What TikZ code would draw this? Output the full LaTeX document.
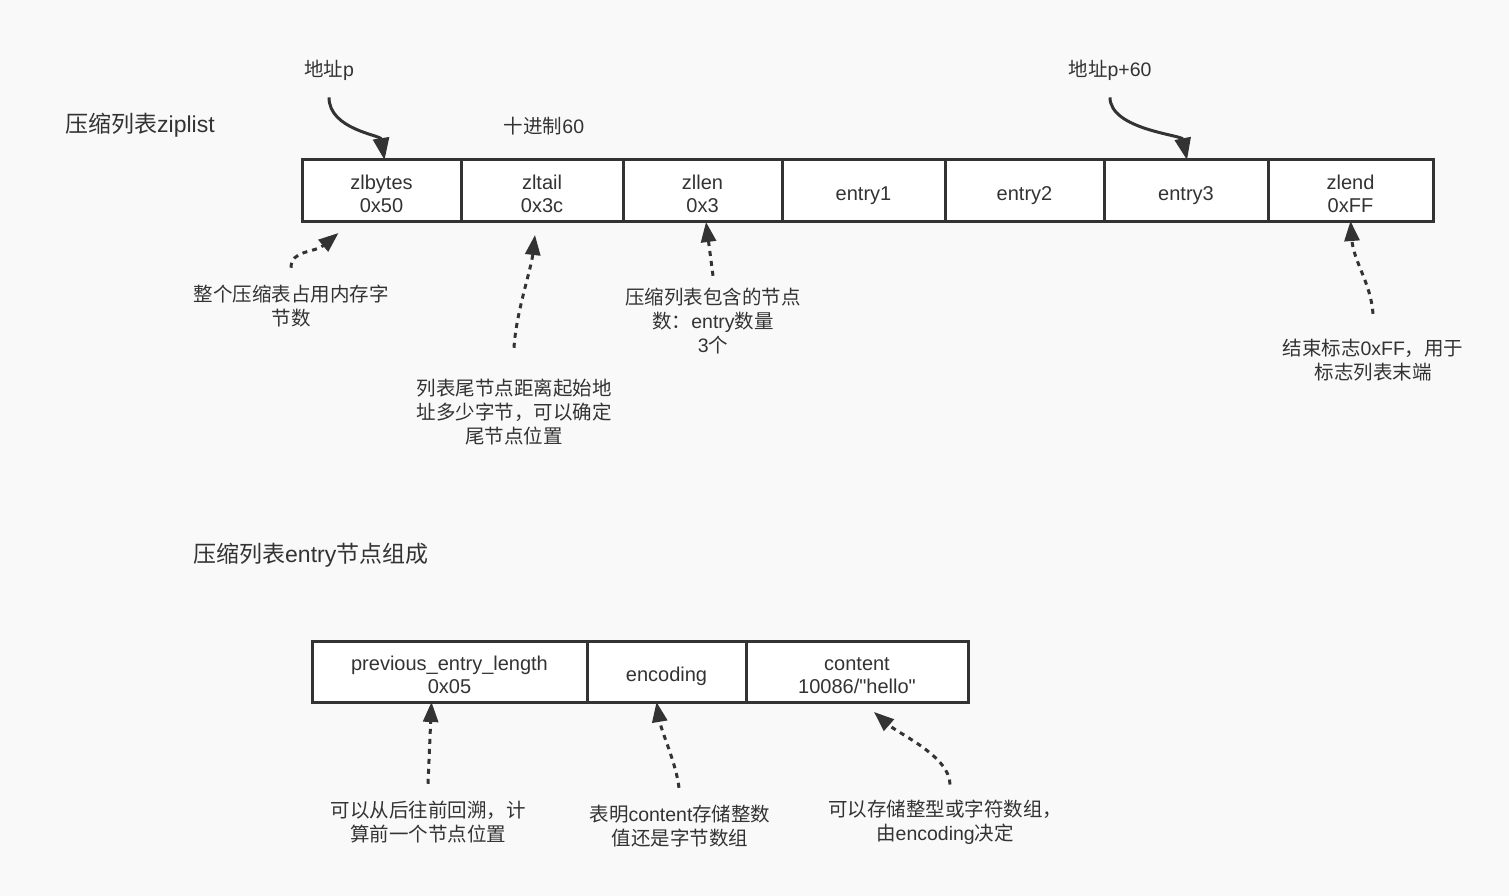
\documentclass[tikz,border=0pt]{standalone}
\usepackage{fontspec}
\setmainfont{Liberation Sans}
\newfontfamily\cjk{Noto Sans CJK SC}
\usepackage{xcolor}
\usetikzlibrary{arrows.meta, positioning}
\definecolor{bgGray}{HTML}{F9F9F9}
\definecolor{inkGray}{HTML}{333333}

\begin{document}
\begin{tikzpicture}[
        x=1pt, y=-1pt,
        font=\fontsize{19.5}{24}\selectfont,
        text=inkGray,
        cellbox/.style={
            draw=inkGray,
            fill=white,
            line width=3pt,
            minimum height=61pt,
            outer sep=0pt,
            inner sep=0pt,
            align=center,
            font=\fontsize{20}{23}\selectfont
        },
        cell/.style={
            cellbox,
            execute at begin node={\rule{0pt}{43.5pt}}
        },
        onecell/.style={
            cellbox,
            execute at begin node={\rule{0pt}{24pt}}
        },
        note/.style={
            inner sep=0pt,
            align=center
        },
        heading/.style={
            inner sep=0pt,
            anchor=west,
            font=\fontsize{23}{28}\selectfont
        },
        ptr/.style={
            draw=inkGray,
            line width=3pt,
            -{Triangle[length=22pt,width=16pt]}
        },
        dotptr/.style={
            draw=inkGray,
            line width=3pt,
            dash pattern=on 5pt off 5pt,
            -{Triangle[length=20pt,width=15pt]}
        }
    ]

        \fill[bgGray] (0,0) rectangle (1509,896);
        \useasboundingbox (0,0) rectangle (1509,896);

        % ziplist
        \node[heading] (zipTitle) at (65,125) {{\cjk 压缩列表}ziplist};

        \node[cell, minimum width=159pt, anchor=north west] (zlBytes) at (302,160) {zlbytes\\0x50};
        \node[cell, minimum width=162pt, right=0pt of zlBytes] (zlTail) {zltail\\0x3c};
        \node[cell, minimum width=159pt, right=0pt of zlTail] (zlLen) {zllen\\0x3};
        \node[onecell, minimum width=163pt, right=0pt of zlLen] (entOne) {entry1};
        \node[onecell, minimum width=159pt, right=0pt of entOne] (entTwo) {entry2};
        \node[onecell, minimum width=164pt, right=0pt of entTwo] (entThree) {entry3};
        \node[cell, minimum width=165pt, right=0pt of entThree] (zlEnd) {zlend\\0xFF};

        \node[note] (addrP) at (329,70) {{\cjk 地址}p};
        \node[note] (addrPEnd) at (1110,70) {{\cjk 地址}p+60};
        \node[note] (tailDec) at (544,126) {{\cjk 十进制}60};

        \node[note] (lblBytes) at (291,306) {{\cjk 整个压缩表占用内存字}\\{\cjk 节数}};
        \node[note] (lblTail) at (514,412) {{\cjk 列表尾节点距离起始地}\\{\cjk 址多少字节，可以确定}\\{\cjk 尾节点位置}};
        \node[note] (lblLen) at (713,321) {{\cjk 压缩列表包含的节点}\\{\cjk 数：}entry{\cjk 数量}\\3{\cjk 个}};
        \node[note] (lblEnd) at (1373,360) {{\cjk 结束标志}0xFF{\cjk ，用于}\\{\cjk 标志列表末端}};

        \draw[ptr] ([yshift=-17pt]addrP.south) .. controls +(0,32) and +(-4,-25) .. ([xshift=3pt]zlBytes.north);
        \draw[ptr] ([yshift=-17pt]addrPEnd.south) .. controls +(0,32) and +(-5,-25) .. ([xshift=1pt]entThree.north);

        \draw[dotptr] ([yshift=17pt]lblBytes.north) .. controls +(0,-18) and +(-24,20) .. ([xshift=-43pt,yshift=-12pt]zlBytes.south);
        \draw[dotptr] ([yshift=31pt]lblTail.north) .. controls +(2,-35) and +(-4,35) .. ([xshift=-7pt,yshift=-14pt]zlTail.south);
        \draw[dotptr] ([yshift=12pt]lblLen.north) -- ([xshift=3.5pt,yshift=-1pt]zlLen.south);
        \draw[dotptr] ([yshift=25pt]lblEnd.north) .. controls +(-2,-30) and +(3,40) .. (zlEnd.south);

        % entry
        \node[heading] (entryTitle) at (193,555) {{\cjk 压缩列表}entry{\cjk 节点组成}};

        \node[cell, minimum width=275pt, anchor=north west] (prevLen) at (312,641) {previous\_entry\_length\\0x05};
        \node[onecell, minimum width=159pt, right=0pt of prevLen] (encField) {encoding};
        \node[cell, minimum width=222pt, right=0pt of encField] (contentField) {content\\10086/\textquotedbl hello\textquotedbl};

        \node[note] (lblPrev) at (428,822) {{\cjk 可以从后往前回溯，计}\\{\cjk 算前一个节点位置}};
        \node[note] (lblEnc) at (680,826) {{\cjk 表明}content{\cjk 存储整数}\\{\cjk 值还是字节数组}};
        \node[note] (lblContent) at (945,822) {{\cjk 可以存储整型或字符数组，}\\{\cjk 由}encoding{\cjk 决定}};

        \draw[dotptr] ([yshift=17pt]lblPrev.north) -- ([xshift=-18pt]prevLen.south);
        \draw[dotptr] ([xshift=-1pt,yshift=17pt]lblEnc.north) .. controls +(-3,-25) and +(5,30) .. ([xshift=-10pt]encField.south);
        \draw[dotptr] ([xshift=5pt,yshift=15pt]lblContent.north) .. controls +(0,-28) and +(25,22) .. ([xshift=17pt,yshift=-10pt]contentField.south);

    \end{tikzpicture}
\end{document}
